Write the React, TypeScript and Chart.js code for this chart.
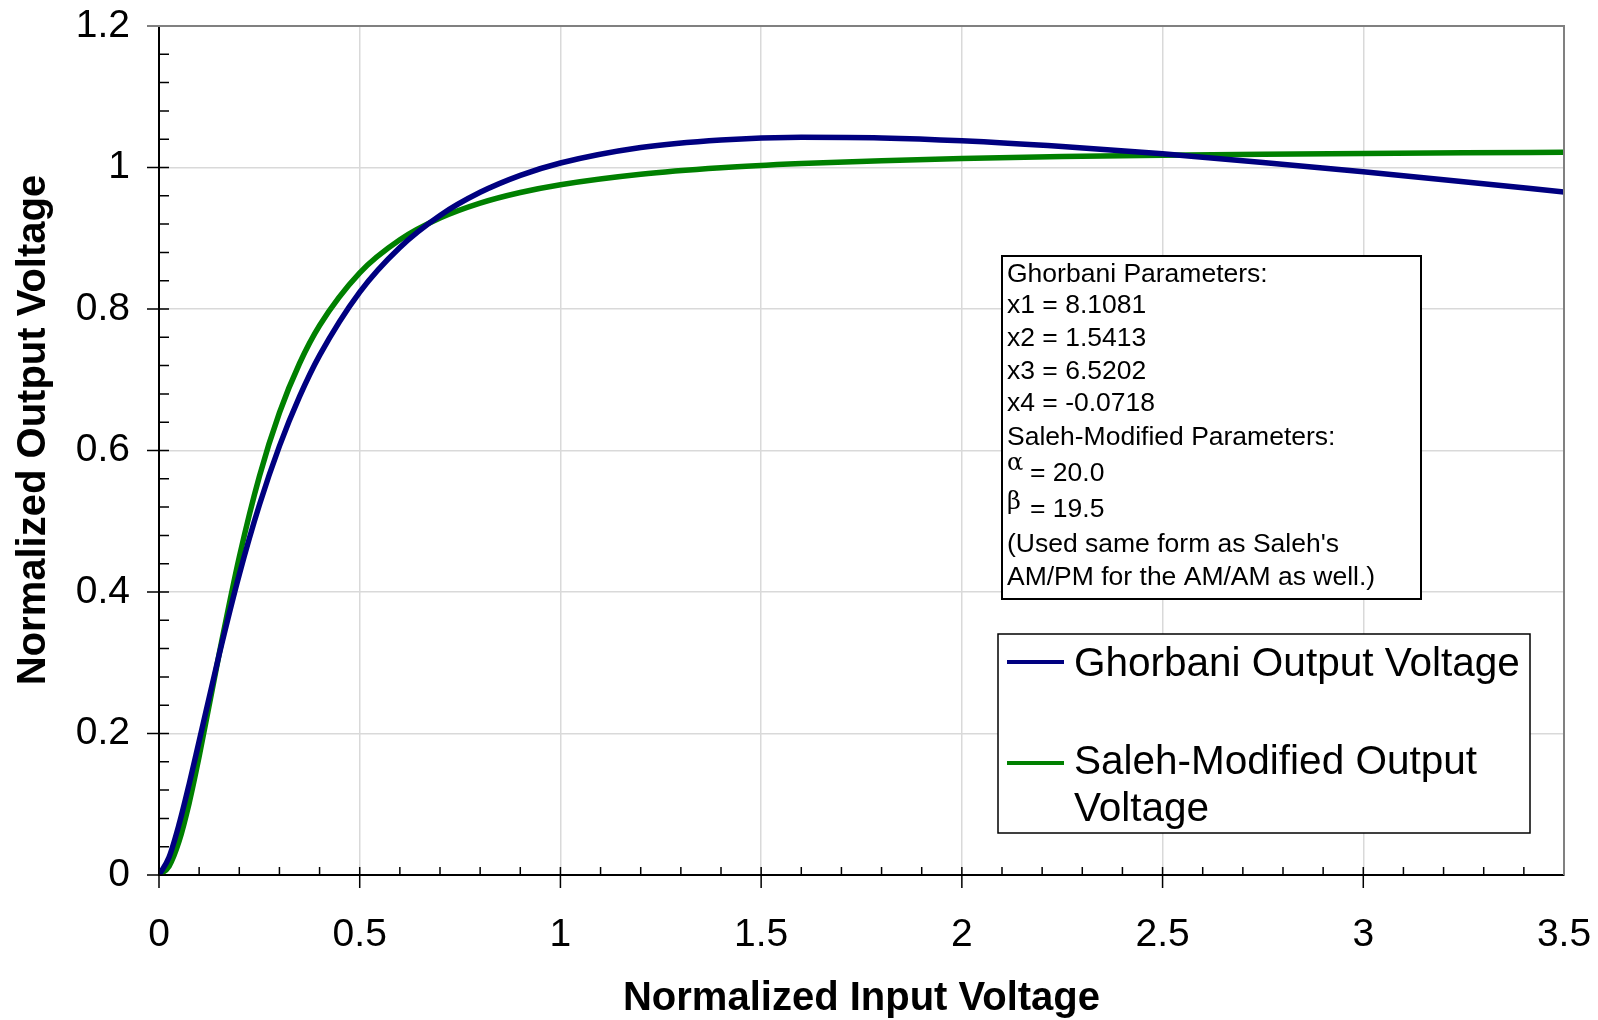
import React, { useEffect, useRef } from "react";
import { Chart, registerables } from "chart.js";

Chart.register(...registerables);

// Normalized input voltage samples
const inputVoltage = [
  0, 0.025, 0.05, 0.075, 0.1, 0.15, 0.2, 0.25, 0.3, 0.35, 0.4, 0.5, 0.6, 0.7,
  0.8, 0.9, 1.0, 1.2, 1.4, 1.6, 1.8, 2.0, 2.25, 2.5, 2.75, 3.0, 3.25, 3.5,
];

// Ghorbani AM/AM output
const ghorbaniOutput = [
  0, 0.0251, 0.0716, 0.1282, 0.1892, 0.3118, 0.4247, 0.5229, 0.6062, 0.676,
  0.7344, 0.8239, 0.887, 0.9322, 0.9649, 0.9889, 1.0064, 1.0283, 1.039, 1.0426,
  1.0417, 1.0377, 1.0296, 1.0193, 1.0072, 0.994, 0.98, 0.9652,
];

// Saleh-modified AM/AM output
const salehOutput = [
  0, 0.0124, 0.0477, 0.1014, 0.1674, 0.3128, 0.4494, 0.5634, 0.6534, 0.723,
  0.7767, 0.8511, 0.8978, 0.9285, 0.9496, 0.9646, 0.9756, 0.9904, 0.9995,
  1.0055, 1.0097, 1.0127, 1.0154, 1.0173, 1.0187, 1.0198, 1.0207, 1.0214,
];

const seriesLabels = ["Ghorbani Output Voltage", "Saleh-Modified Output Voltage"];
const seriesColors = ["#000080", "#008000"];

const parameterLines = [
  "Ghorbani Parameters:",
  "x1 = 8.1081",
  "x2 = 1.5413",
  "x3 = 6.5202",
  "x4 = -0.0718",
  "Saleh-Modified Parameters:",
];
const alphaText = "= 20.0";
const betaText = "= 19.5";
const noteLines = ["(Used same form as Saleh's", "AM/PM for the AM/AM as well.)"];

const xTitle = "Normalized Input Voltage";
const yTitle = "Normalized Output Voltage";

const FONT = "'Liberation Sans', Arial, Helvetica, sans-serif";

const decorations = {
  id: "decorations",
  afterDraw(chart: any) {
    const { ctx, chartArea: a, scales } = chart;
    const xs = scales.x;
    const ys = scales.y;
    ctx.save();

    // grey frame on top and right
    ctx.strokeStyle = "#808080";
    ctx.lineWidth = 2;
    ctx.beginPath();
    ctx.moveTo(a.left - 12, a.top);
    ctx.lineTo(a.right, a.top);
    ctx.lineTo(a.right, a.bottom);
    ctx.stroke();

    // axis tick marks: majors cross the axis, minors point inward
    ctx.strokeStyle = "#000";
    ctx.lineWidth = 1.5;
    ctx.beginPath();
    for (let i = 1; i < 35; i++) {
      const px = xs.getPixelForValue(i / 10);
      if (i % 5 === 0) {
        ctx.moveTo(px, a.bottom - 8);
        ctx.lineTo(px, a.bottom + 13);
      } else {
        ctx.moveTo(px, a.bottom - 8);
        ctx.lineTo(px, a.bottom);
      }
    }
    ctx.moveTo(a.left, a.bottom - 8);
    ctx.lineTo(a.left, a.bottom + 13);
    for (let i = 0; i < 30; i++) {
      const py = ys.getPixelForValue(i * 0.04);
      if (i % 5 === 0) {
        ctx.moveTo(a.left - 12, py);
        ctx.lineTo(a.left + 10, py);
      } else {
        ctx.moveTo(a.left, py);
        ctx.lineTo(a.left + 10, py);
      }
    }
    ctx.stroke();

    // axis titles
    ctx.fillStyle = "#000";
    ctx.font = `bold 40px ${FONT}`;
    ctx.textAlign = "center";
    ctx.textBaseline = "middle";
    ctx.fillText(xTitle, (a.left + a.right) / 2, 999);
    ctx.save();
    ctx.translate(34, 430);
    ctx.rotate(-Math.PI / 2);
    ctx.fillText(yTitle, 0, 0);
    ctx.restore();

    // parameter box
    ctx.fillStyle = "#fff";
    ctx.fillRect(1002, 256, 419, 343);
    ctx.strokeStyle = "#000";
    ctx.lineWidth = 2;
    ctx.strokeRect(1002, 256, 419, 343);
    ctx.fillStyle = "#000";
    ctx.textAlign = "left";
    ctx.textBaseline = "middle";
    ctx.font = `26.5px ${FONT}`;
    const rows = [275, 306, 339, 372, 404, 438];
    parameterLines.forEach((t, i) => ctx.fillText(t, 1007, rows[i]));
    ctx.fillText(alphaText, 1030, 474);
    ctx.fillText(betaText, 1030, 510);
    ctx.fillText(noteLines[0], 1007, 545);
    ctx.fillText(noteLines[1], 1007, 578);
    ctx.font = `24px 'DejaVu Serif', serif`;
    ctx.fillText("\u03b1", 1007, 464);
    ctx.fillText("\u03b2", 1007, 503);

    // legend box
    ctx.fillStyle = "#fff";
    ctx.fillRect(998, 634, 532, 199);
    ctx.strokeStyle = "#000";
    ctx.lineWidth = 1.5;
    ctx.strokeRect(998, 634, 532, 199);
    const ds = chart.data.datasets;
    const lineY = [662, 763];
    ds.forEach((d: any, i: number) => {
      ctx.strokeStyle = d.borderColor;
      ctx.lineWidth = 4;
      ctx.beginPath();
      ctx.moveTo(1007, lineY[i]);
      ctx.lineTo(1064, lineY[i]);
      ctx.stroke();
    });
    ctx.fillStyle = "#000";
    ctx.font = `40.5px ${FONT}`;
    ctx.fillText(ds[0].label, 1074, 665);
    ctx.fillText("Saleh-Modified Output", 1074, 763);
    ctx.fillText("Voltage", 1074, 810);

    ctx.restore();
  },
};

export default function App() {
  const canvasRef = useRef<HTMLCanvasElement | null>(null);

  useEffect(() => {
    const canvas = canvasRef.current;
    if (!canvas) return;
    const toPoints = (ys: number[]) => inputVoltage.map((x, i) => ({ x, y: ys[i] }));
    const chart = new Chart(canvas, {
      type: "line",
      data: {
        datasets: [
          {
            label: seriesLabels[0],
            data: toPoints(ghorbaniOutput),
            borderColor: seriesColors[0],
            borderWidth: 5.5,
            pointRadius: 0,
            cubicInterpolationMode: "monotone",
          },
          {
            label: seriesLabels[1],
            data: toPoints(salehOutput),
            borderColor: seriesColors[1],
            borderWidth: 5.5,
            pointRadius: 0,
            cubicInterpolationMode: "monotone",
          },
        ],
      },
      options: {
        animation: false,
        responsive: true,
        maintainAspectRatio: false,
        layout: { padding: { left: 0, top: 26, right: 34, bottom: 0 } },
        plugins: { legend: { display: false }, tooltip: { enabled: false } },
        scales: {
          x: {
            type: "linear",
            min: 0,
            max: 3.5,
            afterFit: (s: any) => {
              s.height = 145;
              s.paddingLeft = 0;
              s.paddingRight = 0;
            },
            ticks: {
              stepSize: 0.5,
              padding: 37,
              maxRotation: 0,
              color: "#000",
              font: { family: FONT, size: 39 },
              callback: (v: any) => String(+Number(v).toFixed(1)),
            },
            grid: { color: "#d9d9d9", lineWidth: 1.5, drawTicks: false },
            border: { color: "#000", width: 2 },
          },
          y: {
            min: 0,
            max: 1.2,
            afterFit: (s: any) => {
              s.width = 159;
              s.paddingTop = 0;
              s.paddingBottom = 0;
            },
            ticks: {
              stepSize: 0.2,
              padding: 29,
              color: "#000",
              font: { family: FONT, size: 39 },
              callback: (v: any) => String(+Number(v).toFixed(1)),
            },
            grid: { color: "#d9d9d9", lineWidth: 1.5, drawTicks: false },
            border: { color: "#000", width: 2 },
          },
        },
      },
      plugins: [decorations],
    });
    return () => chart.destroy();
  }, []);

  return (
    <div
      style={{
        position: "absolute",
        left: 0,
        top: 0,
        width: "1598px",
        height: "1020px",
        background: "#fff",
      }}
    >
      <canvas ref={canvasRef} />
    </div>
  );
}
